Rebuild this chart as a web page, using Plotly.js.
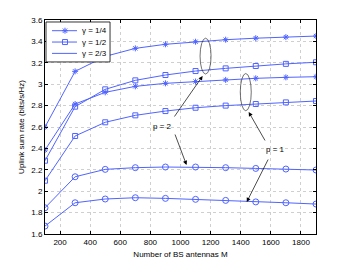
<!DOCTYPE html>
<html><head><meta charset="utf-8">
<script src="https://cdn.plot.ly/plotly-3.0.1.min.js"></script>
<style>html,body{margin:0;padding:0;background:#fff}#c{width:349px;height:263px}</style>
</head><body><div id="c"></div>
<script>
const antennas = [100, 300, 500, 700, 900, 1100, 1300, 1500, 1700, 1900];
const g14_p2 = [2.60, 3.12, 3.26, 3.335, 3.373, 3.397, 3.416, 3.43, 3.44, 3.45];
const g14_p1 = [2.385, 2.815, 2.924, 2.98, 3.008, 3.025, 3.04, 3.055, 3.064, 3.07];
const g12_p2 = [2.285, 2.79, 2.952, 3.036, 3.086, 3.123, 3.148, 3.17, 3.19, 3.205];
const g12_p1 = [2.098, 2.516, 2.644, 2.709, 2.749, 2.78, 2.80, 2.815, 2.83, 2.843];
const g23_p2 = [1.845, 2.135, 2.204, 2.22, 2.226, 2.226, 2.22, 2.213, 2.207, 2.198];
const g23_p1 = [1.674, 1.892, 1.927, 1.939, 1.933, 1.924, 1.914, 1.90, 1.892, 1.88];
const legendNames = ['γ = 1/4', 'γ = 1/2', 'γ = 2/3'];

const blue = 'rgb(80,100,255)';
function tr(y, name, sym, size) {
  return {x: antennas, y: y, name: name, type: 'scatter', mode: 'lines+markers',
    showlegend: false,
    line: {color: blue, width: 1},
    marker: {symbol: sym, size: size, color: blue, line: {color: blue, width: 1}}};
}
const data = [
  tr(g14_p2, legendNames[0], 'asterisk-open', 5),
  tr(g12_p2, legendNames[1], 'square-open', 5),
  tr(g23_p2, legendNames[2], 'circle-open', 6),
  tr(g14_p1, legendNames[0], 'asterisk-open', 5),
  tr(g12_p1, legendNames[1], 'square-open', 5),
  tr(g23_p1, legendNames[2], 'circle-open', 6)
];
const font = {family: 'Liberation Sans, Arial, sans-serif', size: 8, color: '#000'};
function arrow(x, y, ax, ay) {
  return {x: x, y: y, ax: ax, ay: ay, xref: 'x', yref: 'y', axref: 'x', ayref: 'y',
    text: '', showarrow: true, arrowhead: 2, arrowsize: 1.2, arrowwidth: 0.7, arrowcolor: '#000'};
}

// legend box (drawn with shapes so row spacing matches the original)
const lg = {x0: 0.0037, x1: 0.24, y0: 0.804, y1: 0.9907,
  rows: [0.950, 0.897, 0.844], lx0: 0.0258, lx1: 0.118, mx: 0.0738, tx: 0.129};
const legendShapes = [
  {type: 'rect', xref: 'paper', yref: 'paper', x0: lg.x0, x1: lg.x1, y0: lg.y0, y1: lg.y1,
    fillcolor: '#fff', line: {color: '#000', width: 0.8}, layer: 'above'}
];
const glyphs = [
  'M-3,0H3M0,-3V3M-2.2,-2.2L2.2,2.2M-2.2,2.2L2.2,-2.2',
  'M-2.5,-2.5H2.5V2.5H-2.5Z',
  'M3,0A3,3 0 1,1 -3,0A3,3 0 1,1 3,0Z'
];
lg.rows.forEach((ry, i) => {
  legendShapes.push({type: 'line', xref: 'paper', yref: 'paper', x0: lg.lx0, x1: lg.lx1, y0: ry, y1: ry,
    line: {color: blue, width: 1}, layer: 'above'});
  legendShapes.push({type: 'path', xref: 'paper', yref: 'paper', xsizemode: 'pixel', ysizemode: 'pixel',
    xanchor: lg.mx, yanchor: ry, path: glyphs[i], line: {color: blue, width: 1}, fillcolor: 'rgba(0,0,0,0)', layer: 'above'});
});
const legendTexts = lg.rows.map((ry, i) => ({x: lg.tx, y: ry, xref: 'paper', yref: 'paper',
  xanchor: 'left', yanchor: 'middle', text: legendNames[i], showarrow: false, font: font}));

const layout = {
  width: 349, height: 263,
  margin: {l: 45, r: 33, t: 20, b: 29},
  paper_bgcolor: '#fff', plot_bgcolor: '#fff',
  font: font,
  showlegend: false,
  xaxis: {range: [100, 1900], tickvals: [200,400,600,800,1000,1200,1400,1600,1800],
    showgrid: true, gridcolor: '#bbb', griddash: 'dot', gridwidth: 0.7,
    showline: true, linecolor: '#000', linewidth: 1, mirror: 'ticks',
    ticks: 'inside', ticklen: 3, tickcolor: '#000', zeroline: false,
    tickfont: font,
    title: {text: 'Number of BS antennas M', font: font, standoff: 5}},
  yaxis: {range: [1.6, 3.6], dtick: 0.2, tick0: 1.6, automargin: true,
    showgrid: true, gridcolor: '#bbb', griddash: 'dot', gridwidth: 0.7,
    showline: true, linecolor: '#000', linewidth: 1, mirror: 'ticks',
    ticks: 'inside', ticklen: 3, tickcolor: '#000', zeroline: false,
    tickfont: font,
    title: {text: 'Uplink sum rate (bits/s/Hz)', font: font, standoff: 5}},
  shapes: [
    {type: 'circle', xref: 'x', yref: 'y', x0: 1130, x1: 1203, y0: 3.095, y1: 3.43,
      line: {color: '#333', width: 0.7}},
    {type: 'circle', xref: 'x', yref: 'y', x0: 1397, x1: 1470, y0: 2.752, y1: 3.10,
      line: {color: '#333', width: 0.7}}
  ].concat(legendShapes),
  annotations: [
    {x: 880, y: 2.609, xref: 'x', yref: 'y', text: 'p = 2', showarrow: false, font: font},
    {x: 1633, y: 2.394, xref: 'x', yref: 'y', text: 'p = 1', showarrow: false, font: font},
    arrow(1147, 3.077, 953, 2.684),
    arrow(1040, 2.245, 960, 2.544),
    arrow(1453, 2.74, 1567, 2.46),
    arrow(1440, 1.899, 1587, 2.31)
  ].concat(legendTexts)
};
Plotly.newPlot('c', data, layout, {displayModeBar: false, staticPlot: true});
</script></body></html>
